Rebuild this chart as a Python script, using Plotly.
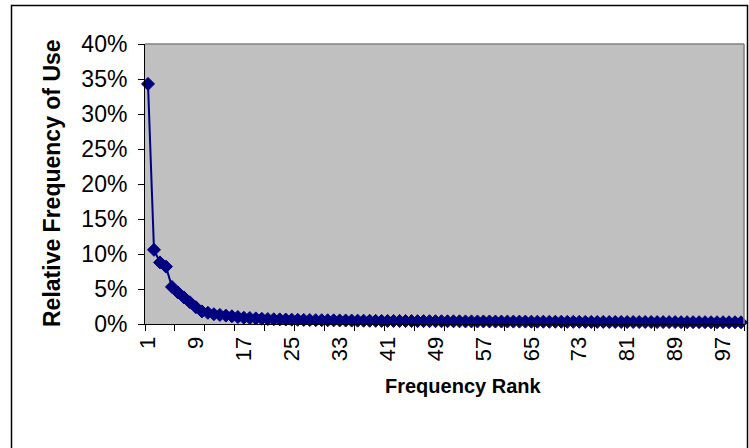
import plotly.graph_objects as go

ranks = list(range(1, 101))
freq_pct = [
    34.3, 10.6, 8.8, 8.2, 5.3, 4.5, 3.8, 3.1, 2.4, 1.8,
    1.6, 1.4, 1.3, 1.2, 1.1, 1.0, 0.9, 0.85, 0.8, 0.75,
    0.7, 0.68, 0.66, 0.64, 0.62, 0.6, 0.58, 0.56, 0.55, 0.54,
    0.53, 0.52, 0.51, 0.50, 0.49, 0.48, 0.47, 0.46, 0.45, 0.44,
    0.44, 0.43, 0.43, 0.42, 0.42, 0.41, 0.41, 0.40, 0.40, 0.39,
    0.39, 0.38, 0.38, 0.37, 0.37, 0.36, 0.36, 0.36, 0.35, 0.35,
    0.35, 0.34, 0.34, 0.34, 0.33, 0.33, 0.33, 0.32, 0.32, 0.32,
    0.31, 0.31, 0.31, 0.30, 0.30, 0.30, 0.30, 0.29, 0.29, 0.29,
    0.29, 0.28, 0.28, 0.28, 0.28, 0.27, 0.27, 0.27, 0.27, 0.26,
    0.26, 0.26, 0.26, 0.26, 0.25, 0.25, 0.25, 0.25, 0.25, 0.24,
]
x_label_vals = list(range(1, 101, 8))
x_tickmark_vals = [0.5 + 5 * i for i in range(21)]
y_tick_vals = list(range(0, 41, 5))

FONT = "Arial, Liberation Sans, sans-serif"
W, H = 749, 448
L, R, T, B = 145, 5, 44, 124
PW, PH = W - L - R, H - T - B

def px(x):
    return (x - L) / PW

def py(y):
    return (H - B - y) / PH

fig = go.Figure()
fig.add_trace(go.Scatter(
    x=ranks, y=freq_pct, mode="lines+markers",
    line=dict(color="#000080", width=2),
    marker=dict(symbol="diamond", size=10, color="#000080",
                line=dict(color="#000080", width=1)),
    showlegend=False, cliponaxis=False,
))
# invisible trace on overlay axis for tick marks
fig.add_trace(go.Scatter(x=[ranks[0]], y=[freq_pct[0]], xaxis="x2", mode="markers",
                         marker=dict(opacity=0), showlegend=False, hoverinfo="skip"))

fig.update_layout(
    width=W, height=H,
    margin=dict(l=L, r=R, t=T, b=B, pad=0),
    paper_bgcolor="white",
    plot_bgcolor="#C0C0C0",
    font=dict(family=FONT, size=22, color="black"),
    xaxis=dict(
        range=[0.5, 100.5], tickmode="array", tickvals=x_label_vals,
        ticktext=[str(v) for v in x_label_vals], tickangle=-90,
        ticks="", showgrid=False, zeroline=False,
        showline=True, linecolor="black", linewidth=1,
        ticklabelstandoff=3, tickfont=dict(size=22),
    ),
    xaxis2=dict(
        range=[0.5, 100.5], overlaying="x", side="bottom",
        tickmode="array", tickvals=x_tickmark_vals, showticklabels=False,
        ticks="outside", ticklen=6, tickcolor="black", tickwidth=1,
        showgrid=False, zeroline=False, showline=False,
    ),
    yaxis=dict(
        range=[0, 40], tickmode="array", tickvals=y_tick_vals,
        ticktext=[f"{v}%" for v in y_tick_vals],
        ticks="outside", ticklen=6, tickcolor="black",
        showgrid=False, zeroline=False,
        showline=True, linecolor="black", linewidth=1,
        ticklabelstandoff=6, tickfont=dict(size=23),
    ),
    shapes=[
        dict(type="line", xref="paper", yref="paper", x0=0, x1=1, y0=1, y1=1,
             line=dict(color="#808080", width=1.5), layer="above"),
        dict(type="line", xref="paper", yref="paper", x0=1, x1=1, y0=0, y1=1,
             line=dict(color="#808080", width=1.5), layer="above"),
        dict(type="rect", xref="paper", yref="paper",
             x0=px(11.5), x1=px(747.5), y0=py(452), y1=py(5.5),
             line=dict(color="black", width=1.5), layer="above"),
    ],
    annotations=[
        dict(text="<b>Relative Frequency of Use</b>", xref="paper", yref="paper",
             x=px(52), y=py(183), textangle=-90, showarrow=False,
             xanchor="center", yanchor="middle", font=dict(size=23)),
        dict(text="<b>Frequency Rank</b>", xref="paper", yref="paper",
             x=px(463), y=py(386), showarrow=False,
             xanchor="center", yanchor="middle", font=dict(size=20)),
    ],
)

fig.write_html("out.html")
